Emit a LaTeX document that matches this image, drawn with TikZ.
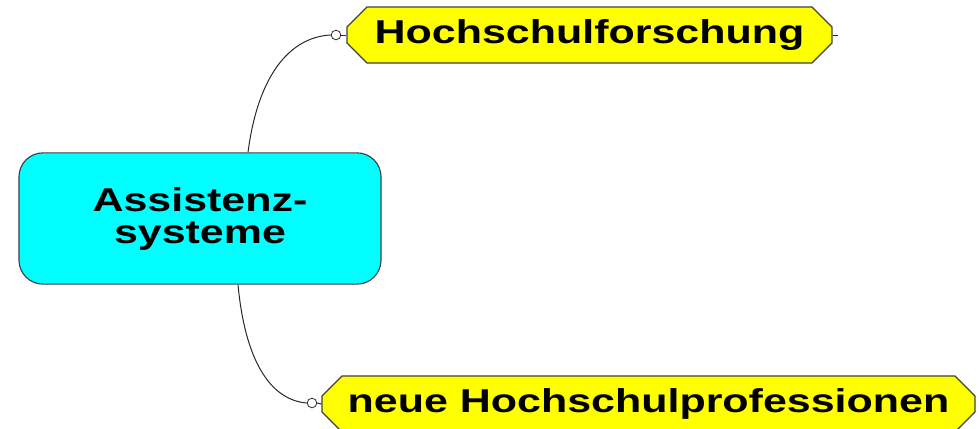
\documentclass[tikz,border=0pt]{standalone}
\usepackage{fontspec}
\newfontfamily\mapfont{Liberation Sans}[FakeStretch=1.3]
\usetikzlibrary{shapes.misc}
\definecolor{boxcyan}{RGB}{0,255,255}
\definecolor{boxyellow}{RGB}{255,255,0}
\begin{document}
\begin{tikzpicture}[x=0.025cm, y=-0.025cm,
    mapnode/.style={font=\mapfont\bfseries\fontsize{23.5}{22.8}\selectfont, text=black, draw=black!75, line width=0.8pt, inner sep=0pt},
    topic/.style={mapnode, chamfered rectangle, chamfered rectangle xsep=0.3cm, chamfered rectangle ysep=0.2cm, fill=boxyellow, minimum height=1.4cm},
    knob/.style={circle, draw=black!80, fill=white, line width=0.6pt, minimum size=0.24cm, inner sep=0pt},
    link/.style={black!85, line width=0.7pt}]
    \useasboundingbox (0,0) rectangle (979,428);

%Zentrum
    \node[mapnode, rounded corners=0.6cm, fill=boxcyan, minimum width=9.05cm, minimum height=3.28cm, align=center] (assist) at (200,218.5) {Assistenz-\\systeme};

%Zweige
    \node[topic, minimum width=12.12cm] (forschung) at (589.5,35) {Hochschulforschung};
    \node[topic, minimum width=16.32cm] (profession) at (648.5,404) {neue Hochschulprofessionen};

    \node[knob] (knobtop) at (336,35) {};
    \node[knob] (knobbot) at (312,403) {};
    \coordinate (stubend) at (838,35);

%Verbindungen
    \draw[link] ([xshift=1.2cm]assist.north) .. controls (258,75) and (290,37) .. (knobtop.west);
    \draw[link] (knobtop.east) -- (forschung.west);
    \draw[link] ([xshift=0.95cm]assist.south) .. controls (245,360) and (270,400) .. (knobbot.west);
    \draw[link] (knobbot.east) -- (profession.west);
    \draw[link] (forschung.east) -- (stubend);
\end{tikzpicture}
\end{document}
